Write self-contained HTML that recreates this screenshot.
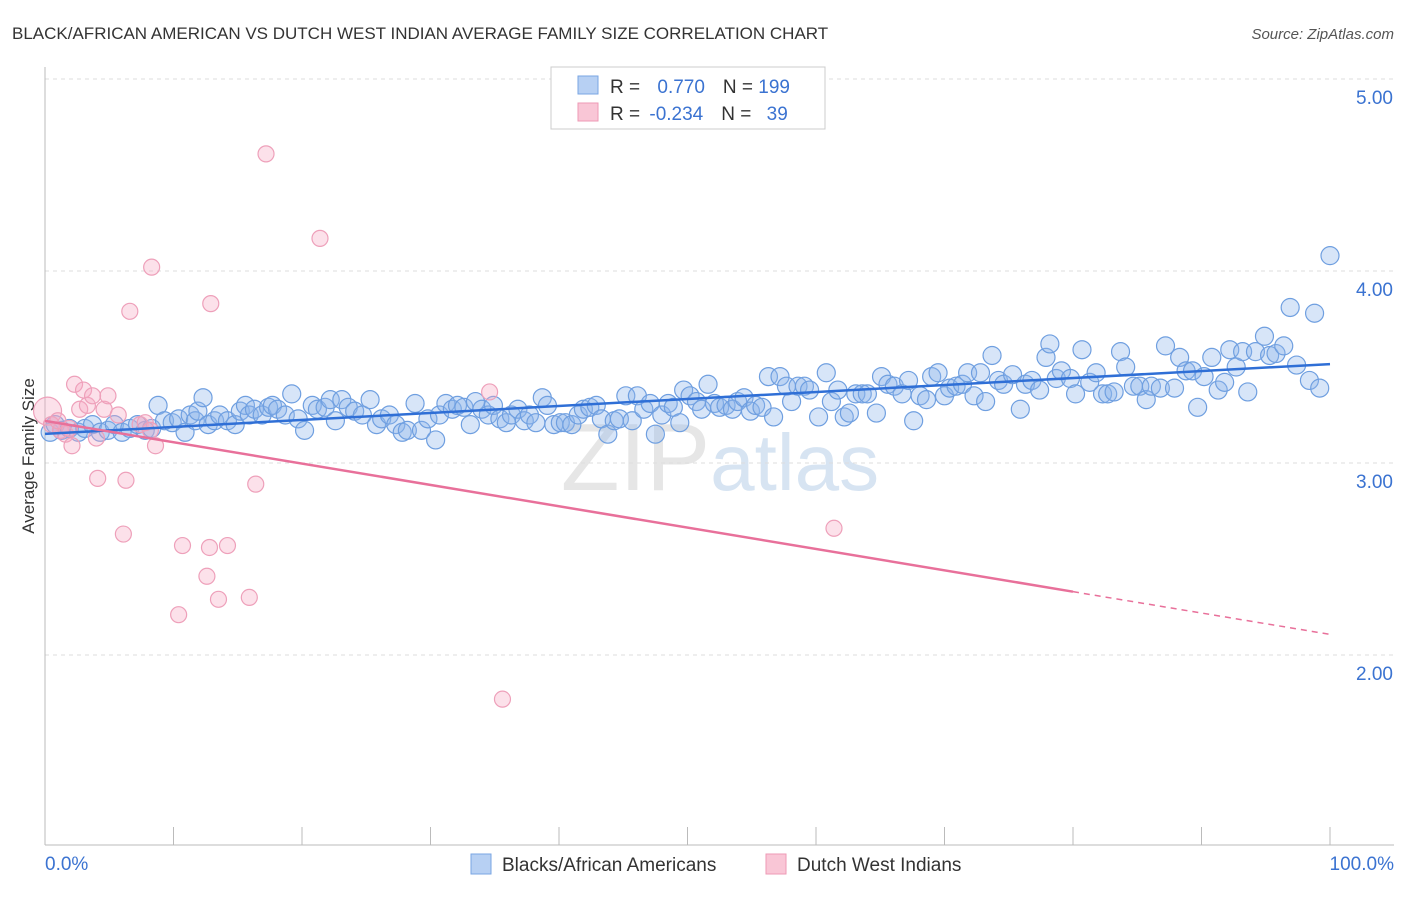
<!DOCTYPE html>
<html><head><meta charset="utf-8"><style>
body{margin:0;background:#fff;font-family:"Liberation Sans",sans-serif;}
svg text{font-family:"Liberation Sans",sans-serif;}
</style></head><body>
<svg id="c" width="1406" height="892" xmlns="http://www.w3.org/2000/svg">
<text x="12" y="39" font-size="17" fill="#333">BLACK/AFRICAN AMERICAN VS DUTCH WEST INDIAN AVERAGE FAMILY SIZE CORRELATION CHART</text>
<text x="1394" y="39" font-size="15" fill="#555" font-style="italic" text-anchor="end">Source: ZipAtlas.com</text>
<text x="720" y="490" font-size="96" fill="#e6e6e6" text-anchor="middle" font-family="Liberation Serif">ZIP<tspan fill="#d7e4f2" font-family="Liberation Sans" font-size="80">atlas</tspan></text>
<text transform="translate(34,456) rotate(-90)" font-size="17" fill="#333" text-anchor="middle">Average Family Size</text>
<g id="grid"></g><g id="pts"></g><g id="lines"></g>
<g>
<rect x="551" y="67" width="274" height="62" fill="#fff" stroke="#ccc"/>
<rect x="578" y="76" width="20" height="18" fill="#b7d0f3" stroke="#7aa6e3"/>
<rect x="578" y="103" width="20" height="18" fill="#f9c6d6" stroke="#ee9ab5"/>
<text x="610" y="93" font-size="19" fill="#333">R = <tspan fill="#3b73d1" dx="12">0.770</tspan><tspan fill="#333" dx="18">N = </tspan><tspan fill="#3b73d1">199</tspan></text>
<text x="610" y="120" font-size="19" fill="#333">R = <tspan fill="#3b73d1" dx="4">-0.234</tspan><tspan fill="#333" dx="18">N = </tspan><tspan fill="#3b73d1" dx="10">39</tspan></text>
</g>
<g>
<rect x="471" y="854" width="20" height="20" fill="#b7d0f3" stroke="#7aa6e3"/>
<text x="502" y="871" font-size="19" fill="#333">Blacks/African Americans</text>
<rect x="766" y="854" width="20" height="20" fill="#f9c6d6" stroke="#ee9ab5"/>
<text x="797" y="871" font-size="19" fill="#333">Dutch West Indians</text>
</g>
</svg>
<script>
const blueX=[0.4,0.8,1.3,1.9,2.6,3.1,3.7,4.3,4.9,5.4,6.0,6.6,7.2,7.8,8.3,8.8,9.3,9.9,10.4,10.9,11.3,11.7,11.9,12.3,12.7,13.2,13.6,14.2,14.8,15.2,15.6,15.9,16.3,16.9,17.4,17.7,18.1,18.7,19.2,19.7,20.2,20.8,21.2,21.8,22.2,22.6,23.1,23.6,24.1,24.7,25.3,25.8,26.2,26.8,27.3,27.8,28.2,28.8,29.3,29.8,30.4,30.7,31.2,31.7,32.1,32.6,33.1,33.5,34.0,34.5,34.9,35.4,35.9,36.3,36.8,37.3,37.7,38.2,38.7,39.1,39.6,40.1,40.5,41.0,41.5,41.9,42.4,42.9,43.3,43.8,44.3,44.7,45.2,45.7,46.1,46.6,47.1,47.5,48.0,48.5,48.9,49.4,49.7,50.2,50.7,51.1,51.6,52.1,52.5,53.0,53.5,53.9,54.4,54.9,55.3,55.8,56.3,56.7,57.2,57.7,58.1,58.6,59.1,59.5,60.2,60.8,61.2,61.7,62.2,62.6,63.1,63.6,64.0,64.7,65.1,65.6,66.1,66.7,67.2,67.6,68.1,68.6,69.0,69.5,70.0,70.4,70.9,71.4,71.8,72.3,72.8,73.2,73.7,74.2,74.6,75.3,75.9,76.3,76.8,77.4,77.9,78.2,78.7,79.1,79.8,80.2,80.7,81.3,81.8,82.3,82.7,83.2,83.7,84.1,84.7,85.2,85.7,86.1,86.8,87.2,87.9,88.3,88.8,89.3,89.7,90.2,90.8,91.3,91.8,92.2,92.7,93.2,93.6,94.2,94.9,95.3,95.8,96.4,96.9,97.4,98.4,98.8,99.2,100];
const blueY=[3.16,3.20,3.17,3.18,3.16,3.18,3.20,3.16,3.17,3.20,3.16,3.18,3.20,3.17,3.18,3.30,3.22,3.21,3.23,3.16,3.25,3.22,3.27,3.34,3.20,3.22,3.25,3.22,3.20,3.27,3.30,3.25,3.28,3.25,3.29,3.30,3.28,3.25,3.36,3.23,3.17,3.30,3.28,3.29,3.33,3.22,3.33,3.29,3.27,3.25,3.33,3.20,3.23,3.25,3.20,3.16,3.17,3.31,3.17,3.23,3.12,3.25,3.31,3.28,3.30,3.29,3.20,3.32,3.28,3.25,3.30,3.23,3.21,3.25,3.28,3.22,3.25,3.21,3.34,3.30,3.20,3.21,3.21,3.20,3.25,3.28,3.29,3.30,3.23,3.15,3.22,3.23,3.35,3.22,3.35,3.28,3.31,3.15,3.25,3.31,3.29,3.21,3.38,3.35,3.32,3.28,3.41,3.31,3.29,3.30,3.28,3.32,3.34,3.27,3.30,3.29,3.45,3.24,3.45,3.40,3.32,3.40,3.40,3.38,3.24,3.47,3.32,3.38,3.24,3.26,3.36,3.36,3.36,3.26,3.45,3.41,3.40,3.36,3.43,3.22,3.35,3.33,3.45,3.47,3.35,3.39,3.40,3.41,3.47,3.35,3.47,3.32,3.56,3.43,3.41,3.46,3.28,3.41,3.43,3.38,3.55,3.62,3.44,3.48,3.44,3.36,3.59,3.42,3.47,3.36,3.36,3.37,3.58,3.50,3.40,3.40,3.33,3.40,3.39,3.61,3.39,3.55,3.48,3.48,3.29,3.45,3.55,3.38,3.42,3.59,3.50,3.58,3.37,3.58,3.66,3.56,3.57,3.61,3.81,3.51,3.43,3.78,3.39,4.08];
const pinkX=[0.2,0.5,1.2,1.6,2.1,2.3,2.7,3.0,3.3,3.7,4.0,4.6,4.9,4.1,5.7,6.1,6.3,6.6,7.4,7.8,8.2,8.3,8.6,10.4,10.7,12.6,12.8,12.9,13.5,14.2,15.9,16.4,17.2,21.4,34.6,35.6,61.4,1.0,1.9];
const pinkY=[3.27,3.20,3.17,3.15,3.09,3.41,3.28,3.38,3.30,3.35,3.13,3.28,3.35,2.92,3.25,2.63,2.91,3.79,3.20,3.21,3.17,4.02,3.09,2.21,2.57,2.41,2.56,3.83,2.29,2.57,2.30,2.89,4.61,4.17,3.37,1.77,2.66,3.22,3.18];
const yTicks=[2,3,4,5];
const yTickLabels=["2.00","3.00","4.00","5.00"];
const xTicks=[0,10,20,30,40,50,60,70,80,90,100];
const xTickLabels=["0.0%","100.0%"];
const NS="http://www.w3.org/2000/svg";
const X=v=>45+v*12.85, Y=v=>79+(5-v)*192;
function mk(tag,attrs,parent){const e=document.createElementNS(NS,tag);for(const k in attrs)e.setAttribute(k,attrs[k]);parent.appendChild(e);return e;}
const grid=document.getElementById('grid'),pts=document.getElementById('pts'),lines=document.getElementById('lines');
yTicks.forEach((t,i)=>{
 const l=mk('line',{x1:45,x2:1394,y1:Y(t),y2:Y(t),stroke:'#ddd','stroke-dasharray':'4,4'},grid);
 
 
 const tx=mk('text',{x:1393,y:Y(t)+25,'font-size':19,fill:'#3b73d1','text-anchor':'end'},grid);
 tx.textContent=yTickLabels[i];
 
 
});
const ax=mk('line',{x1:45,x2:1394,y1:845,y2:845,stroke:'#bbb'},grid);


const ay=mk('line',{x1:45,x2:45,y1:67,y2:845,stroke:'#bbb'},grid);


xTicks.forEach(t=>{
 const l=mk('line',{x1:X(t),x2:X(t),y1:827,y2:845,stroke:'#bbb'},grid);
 
 
});
const xl0=mk('text',{x:45,y:870,'font-size':19,fill:'#3b73d1'},grid);xl0.textContent=xTickLabels[0];


const xl1=mk('text',{x:1394,y:870,'font-size':19,fill:'#3b73d1','text-anchor':'end'},grid);xl1.textContent=xTickLabels[1];


blueX.forEach((x,i)=>{
 const c=mk('circle',{cx:X(x),cy:Y(blueY[i]),r:9,fill:'rgba(140,180,235,0.35)',stroke:'#6f9fe0','stroke-width':1.2},pts);
 
 
});
pinkX.forEach((x,i)=>{
 const c=mk('circle',{cx:X(x),cy:Y(pinkY[i]),r:i===0?14:8,fill:'rgba(245,170,195,0.35)',stroke:'#eea0ba','stroke-width':1.2},pts);
 
 
});
function fit(xs,ys){const n=xs.length;let mx=0,my=0;xs.forEach((x,i)=>{mx+=x;my+=ys[i];});mx/=n;my/=n;let sxy=0,sxx=0;xs.forEach((x,i)=>{sxy+=(x-mx)*(ys[i]-my);sxx+=(x-mx)*(x-mx);});const b=sxy/sxx;return [my-b*mx,b];}
const [ba,bb]=fit(blueX,blueY);
const bl=mk('line',{x1:X(0),y1:Y(ba),x2:X(100),y2:Y(ba+bb*100),stroke:'#2f6fd6','stroke-width':2.5},lines);


const [pa,pb]=fit(pinkX,pinkY);
const pl=mk('line',{x1:X(0),y1:Y(pa),x2:X(80),y2:Y(pa+pb*80),stroke:'#e8709a','stroke-width':2.5},lines);


const pd=mk('line',{x1:X(80),y1:Y(pa+pb*80),x2:X(100),y2:Y(pa+pb*100),stroke:'#e8709a','stroke-width':1.5,'stroke-dasharray':'6,5'},lines);


</script>
</body></html>
